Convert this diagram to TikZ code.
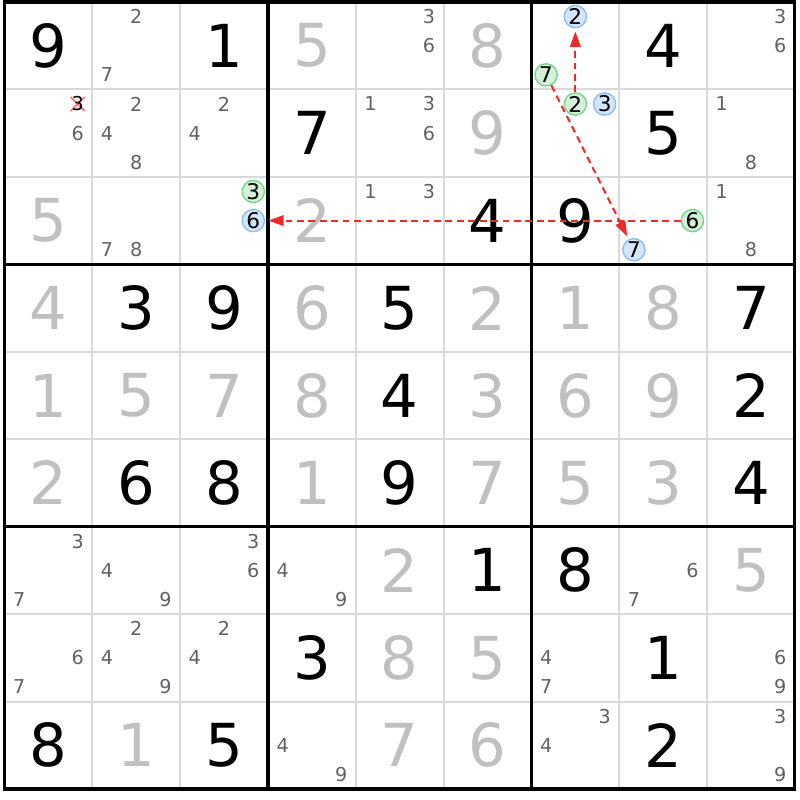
\documentclass[tikz,border=0pt]{standalone}
\usepackage{fontspec}
\setmainfont{DejaVu Sans}
\usepackage{tikz}
\usetikzlibrary{arrows.meta}

\definecolor{thingray}{RGB}{217,217,217}
\definecolor{solvedgray}{RGB}{192,192,192}
\definecolor{candgray}{RGB}{96,96,104}
\definecolor{linkred}{RGB}{240,40,40}
\definecolor{crossred}{RGB}{255,120,120}
\definecolor{onfill}{RGB}{212,240,216}
\definecolor{ondraw}{RGB}{120,212,140}
\definecolor{offfill}{RGB}{212,230,250}
\definecolor{offdraw}{RGB}{140,190,245}

\tikzset{
  given/.style={inner sep=0pt, font=\fontsize{19.2}{20}\selectfont},
  solved/.style={given, text=solvedgray},
  cand/.style={inner sep=0pt, font=\fontsize{6.2}{7}\selectfont, text=candgray},
  oncand/.style={circle, inner sep=0pt, minimum size=7.2pt, line width=0.45pt,
    draw=ondraw, fill=onfill, font=\fontsize{7}{8}\selectfont},
  offcand/.style={oncand, draw=offdraw, fill=offfill},
  link/.style={draw=linkred, line width=0.65pt, dash pattern=on 2.2pt off 1.5pt,
    -{Triangle[length=5pt,width=3.4pt]}, shorten >=1pt}
}

\begin{document}
\begin{tikzpicture}[x=1cm, y=0.9956cm]
    \useasboundingbox (-0.051,-0.126) rectangle (9.057,9.023);
    \fill[white] (-0.051,-0.126) rectangle (9.057,9.023);

    % Grid
    \foreach \i in {1,2,4,5,7,8} {
        \draw[thingray, line width=0.65pt] (\i,0) -- (\i,9);
        \draw[thingray, line width=0.65pt] (0,\i) -- (9,\i);
    }
    \foreach \i in {0,3,6,9} {
        \draw[line width=1pt] (\i,-0.015) -- (\i,9.015);
        \draw[line width=1pt] (-0.015,\i) -- (9.015,\i);
    }

    % Givens
    \foreach \r/\c/\d in {1/1/9, 1/3/1, 1/8/4, 2/4/7, 2/8/5, 3/6/4, 3/7/9,
        4/2/3, 4/3/9, 4/5/5, 4/9/7, 5/5/4, 5/9/2, 6/2/6, 6/3/8, 6/5/9, 6/9/4,
        7/6/1, 7/7/8, 8/4/3, 8/8/1, 9/1/8, 9/3/5, 9/8/2}
        \node[given] (g\r-\c) at (\c-0.5, 9.5-\r) {\d};

    % Solved cells
    \foreach \r/\c/\d in {1/4/5, 1/6/8, 2/6/9, 3/1/5, 3/4/2, 4/1/4, 4/4/6,
        4/6/2, 4/7/1, 4/8/8, 5/1/1, 5/2/5, 5/3/7, 5/4/8, 5/6/3, 5/7/6, 5/8/9,
        6/1/2, 6/4/1, 6/6/7, 6/7/5, 6/8/3, 7/5/2, 7/9/5, 8/5/8, 8/6/5, 9/2/1,
        9/5/7, 9/6/6}
        \node[solved] (s\r-\c) at (\c-0.5, 9.5-\r) {\d};

    % Candidates
    \foreach \r/\c/\l in {1/2/{2,7}, 1/5/{3,6}, 1/9/{3,6}, 2/1/{6}, 2/2/{2,4,8},
        2/3/{2,4}, 2/5/{1,3,6}, 2/9/{1,8}, 3/2/{7,8}, 3/5/{1,3}, 3/9/{1,8},
        7/1/{3,7}, 7/2/{4,9}, 7/3/{3,6}, 7/4/{4,9}, 7/8/{6,7}, 8/1/{6,7},
        8/2/{2,4,9}, 8/3/{2,4}, 8/7/{4,7}, 8/9/{6,9}, 9/4/{4,9}, 9/7/{3,4},
        9/9/{3,9}}
        \foreach \n in \l {
            \pgfmathsetmacro\cx{\c-0.5+(mod(\n-1,3)-1)/3}
            \pgfmathsetmacro\cy{9.5-\r-(floor((\n-1)/3)-1)/3}
            \node[cand] (r\r-\c-\n) at (\cx,\cy) {\n};
        }

    % Eliminated candidate
    \draw[crossred, line width=0.55pt] (0.753,7.753) -- (0.913,7.913)
        (0.753,7.913) -- (0.913,7.753);
    \node[cand, text=black] (r2-1-3) at (0.8333,7.8333) {3};

    % Chain candidates
    \foreach \r/\c/\n/\s in {1/7/7/oncand, 2/7/2/oncand, 3/3/3/oncand,
        3/8/6/oncand, 1/7/2/offcand, 2/7/3/offcand, 3/3/6/offcand,
        3/8/7/offcand} {
        \pgfmathsetmacro\cx{\c-0.5+(mod(\n-1,3)-1)/3}
        \pgfmathsetmacro\cy{9.5-\r-(floor((\n-1)/3)-1)/3}
        \node[\s] (r\r-\c-\n) at (\cx,\cy) {\n};
    }

    % Links
    \draw[link] (r2-7-2) -- (r1-7-2);
    \draw[link] (r1-7-7) -- (r3-8-7);
    \draw[link] (r3-8-6) -- (r3-3-6);

\end{tikzpicture}
\end{document}
